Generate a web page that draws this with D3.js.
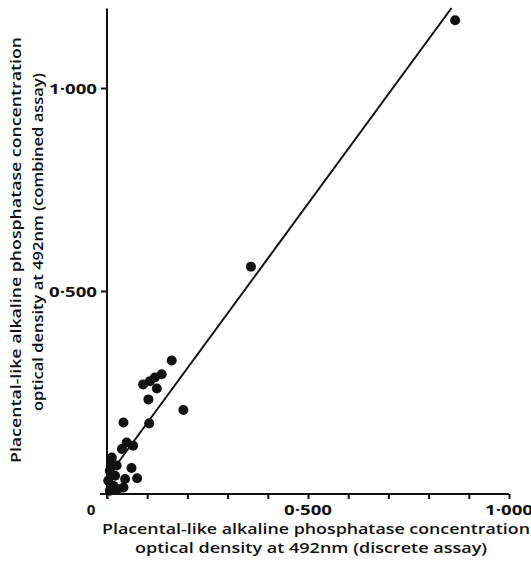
<!DOCTYPE html>
<html>
<head>
<meta charset="utf-8">
<script src="https://cdn.jsdelivr.net/npm/d3@7"></script>
<style>
  body { margin: 0; background: #fff; }
  text { font-family: "Open Sans", "DejaVu Sans", sans-serif; font-weight: 600; fill: #111; }
</style>
</head>
<body>
<script>
// discrete assay (x) vs combined assay (y), optical density at 492nm
var discrete = [0.866, 0.358, 0.161, 0.090, 0.107, 0.119, 0.136, 0.124, 0.103, 0.190,
  0.041, 0.105, 0.049, 0.065, 0.037, 0.061, 0.075, 0.012, 0.024, 0.020,
  0.045, 0.041, 0.016, 0.007, 0.003, 0.007, 0.027, 0.012]
var combined = [1.167, 0.560, 0.329, 0.270, 0.278, 0.287, 0.295, 0.260, 0.233, 0.207,
  0.176, 0.174, 0.127, 0.119, 0.111, 0.064, 0.039, 0.090, 0.070, 0.045,
  0.037, 0.016, 0.020, 0.057, 0.033, 0.008, 0.012, 0.076]

// fitted line end points
var fitX = [0, 0.857]
var fitY = [0.04, 1.197]

var xTicks = [0, 0.1, 0.2, 0.3, 0.4, 0.5, 0.6, 0.7, 0.8, 0.9, 1.0]
var xLabels = [[0.5, '0·500'], [1.0, '1·000']]
var yTicks = [0.5, 1.0]
var yLabels = ['0·500', '1·000']

var xTitle = ['Placental-like alkaline phosphatase concentration',
  'optical density at 492nm (discrete assay)']
var yTitle = ['Placental-like alkaline phosphatase concentration',
  'optical density at 492nm (combined assay)']

var W = 531, H = 565

var x = d3.scaleLinear().domain([0, 1]).range([107, 509])
var y = d3.scaleLinear().domain([0, 1]).range([494, 88])

var svg = d3.select('body').append('svg')
  .attr('width', W)
  .attr('height', H)

// x axis
var xAxis = d3.axisBottom(x).tickValues(xTicks).tickSize(5).tickFormat('')
var gx = svg.append('g').attr('transform', 'translate(0,' + y(0) + ')').call(xAxis)
gx.select('.domain').attr('d', 'M' + (x(0) - 7) + ',0H' + x(1))
gx.selectAll('path, line').attr('stroke', '#111').attr('stroke-width', 2)

// y axis
var yAxis = d3.axisLeft(y).tickValues(yTicks).tickSize(6).tickFormat('')
var gy = svg.append('g').attr('transform', 'translate(' + x(0) + ',0)').call(yAxis)
gy.select('.domain').attr('d', 'M0,' + (y(0) + 4) + 'V' + y(1.196))
gy.selectAll('path, line').attr('stroke', '#111').attr('stroke-width', 2)

// tick labels
svg.append('text')
  .attr('x', 91).attr('y', 515)
  .attr('text-anchor', 'middle')
  .style('font-size', '15px')
  .style('font-weight', 700)
  .text('0')

svg.selectAll('.xl').data(xLabels).enter().append('text')
  .attr('x', function(d){ return x(d[0]) })
  .attr('y', 515)
  .attr('text-anchor', 'middle')
  .attr('textLength', 48)
  .attr('lengthAdjust', 'spacingAndGlyphs')
  .style('font-size', '15px')
  .style('font-weight', 700)
  .text(function(d){ return d[1] })

svg.selectAll('.yl').data(yTicks).enter().append('text')
  .attr('x', x(0) - 10)
  .attr('y', function(d){ return y(d) + 6 })
  .attr('text-anchor', 'end')
  .attr('textLength', 48)
  .attr('lengthAdjust', 'spacingAndGlyphs')
  .style('font-size', '15px')
  .style('font-weight', 700)
  .text(function(d, i){ return yLabels[i] })

// fitted line
svg.append('line')
  .attr('x1', x(fitX[0])).attr('y1', y(fitY[0]))
  .attr('x2', x(fitX[1])).attr('y2', y(fitY[1]))
  .attr('stroke', '#111')
  .attr('stroke-width', 2)

// points
svg.selectAll('circle').data(discrete).enter().append('circle')
  .attr('cx', function(d){ return x(d) })
  .attr('cy', function(d, i){ return y(combined[i]) })
  .attr('r', 5)
  .attr('fill', '#111')

// x title
svg.append('text')
  .attr('x', 316).attr('y', 534)
  .attr('text-anchor', 'middle')
  .attr('textLength', 428)
  .attr('lengthAdjust', 'spacingAndGlyphs')
  .style('font-size', '14px')
  .text(xTitle[0])
svg.append('text')
  .attr('x', 311).attr('y', 553)
  .attr('text-anchor', 'middle')
  .attr('textLength', 352)
  .attr('lengthAdjust', 'spacingAndGlyphs')
  .style('font-size', '14px')
  .text(xTitle[1])

// y title
svg.append('text')
  .attr('transform', 'translate(21,250) rotate(-90)')
  .attr('text-anchor', 'middle')
  .attr('textLength', 426)
  .attr('lengthAdjust', 'spacingAndGlyphs')
  .style('font-size', '14px')
  .text(yTitle[0])
svg.append('text')
  .attr('transform', 'translate(43,242) rotate(-90)')
  .attr('text-anchor', 'middle')
  .attr('textLength', 338)
  .attr('lengthAdjust', 'spacingAndGlyphs')
  .style('font-size', '14px')
  .text(yTitle[1])
</script>
</body>
</html>
